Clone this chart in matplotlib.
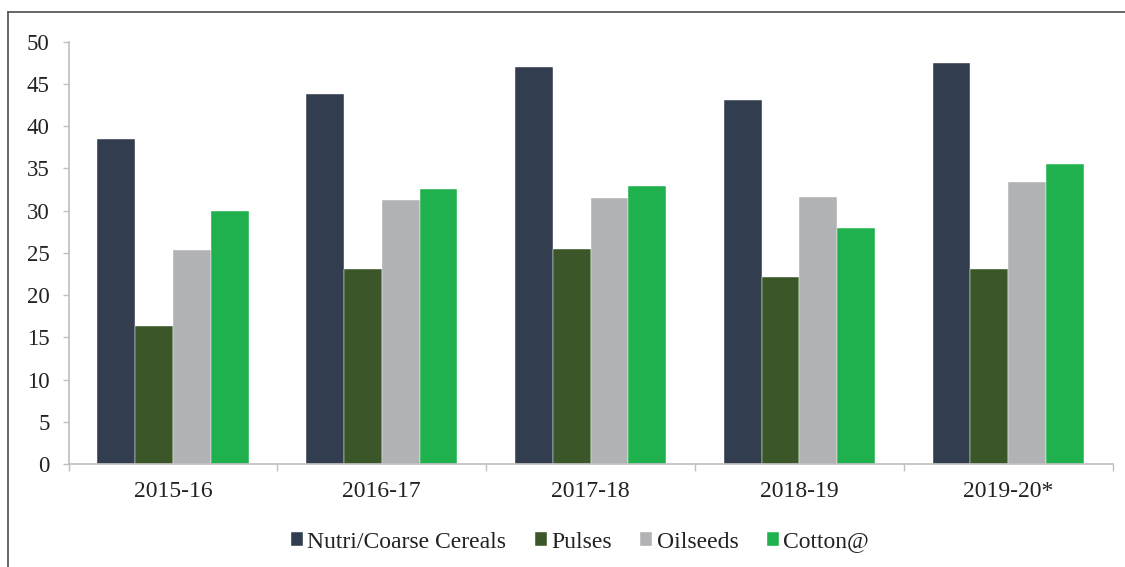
import matplotlib
matplotlib.use("Agg")
import matplotlib.pyplot as plt
import numpy as np
from matplotlib.lines import Line2D

years = ["2015-16", "2016-17", "2017-18", "2018-19", "2019-20*"]
series_names = ["Nutri/Coarse Cereals", "Pulses", "Oilseeds", "Cotton@"]
nutri = [38.5, 43.8, 47.0, 43.1, 47.5]
pulses = [16.3, 23.1, 25.4, 22.1, 23.1]
oilseeds = [25.3, 31.3, 31.5, 31.6, 33.4]
cotton = [30.0, 32.6, 32.9, 28.0, 35.5]
colors = ["#323e4f", "#3b5628", "#b1b2b4", "#20b14f"]
yticks = [0, 5, 10, 15, 20, 25, 30, 35, 40, 45, 50]

plt.rcParams['font.family'] = ['Liberation Serif', 'DejaVu Serif']
txt = "#222222"
axis_gray = "#bfbfbf"

fig = plt.figure(figsize=(11.25, 5.67), dpi=100)
ax = fig.add_axes([68.5/1125, 1-464/567, (1112.7-68.5)/1125, (464-41.7)/567])

x = np.arange(len(years))
w = 0.181
data = [nutri, pulses, oilseeds, cotton]
for i, (vals, name, c) in enumerate(zip(data, series_names, colors)):
    ax.bar(x + (i - 1.5) * w, vals, width=w, color=c, label=name,
           edgecolor="white", linewidth=0.3)

ax.set_xlim(-0.5, len(years) - 0.5)
ax.set_ylim(0, 50)
ax.set_yticks(yticks)
ax.set_yticklabels([str(v) for v in yticks])

ax.set_xticks(np.arange(-0.5, len(years)), minor=False)
ax.set_xticklabels([""] * (len(years) + 1))
ax.set_xticks(x, minor=True)
ax.set_xticklabels(years, minor=True)
ax.tick_params(axis='x', which='major', direction='out', length=5, width=1, color=axis_gray)
ax.tick_params(axis='x', which='minor', length=0, pad=12, labelsize=17, labelcolor=txt)
ax.tick_params(axis='y', direction='out', length=4.5, width=1, color=axis_gray,
               pad=9, labelsize=16.5, labelcolor=txt)

for s in ['top', 'right']:
    ax.spines[s].set_visible(False)
for s in ['left', 'bottom']:
    ax.spines[s].set_color(axis_gray)
    ax.spines[s].set_linewidth(1.2)

leg = fig.legend(loc='center', bbox_to_anchor=(580/1125, 1-542/567), ncol=4,
                 frameon=False, fontsize=17, handlelength=0.5, handleheight=0.5,
                 handletextpad=0.2, columnspacing=1.2, borderaxespad=0)
for t in leg.get_texts():
    t.set_color(txt)

# outer frame (top and left edges visible)
bx = 8/1125
by = 1 - 12/567
fig.add_artist(Line2D([bx, 1.0], [by, by], transform=fig.transFigure, color="#5a5a5a", lw=1.3))
fig.add_artist(Line2D([bx, bx], [0, by], transform=fig.transFigure, color="#5a5a5a", lw=1.3))

fig.savefig("out.png", dpi=100)
